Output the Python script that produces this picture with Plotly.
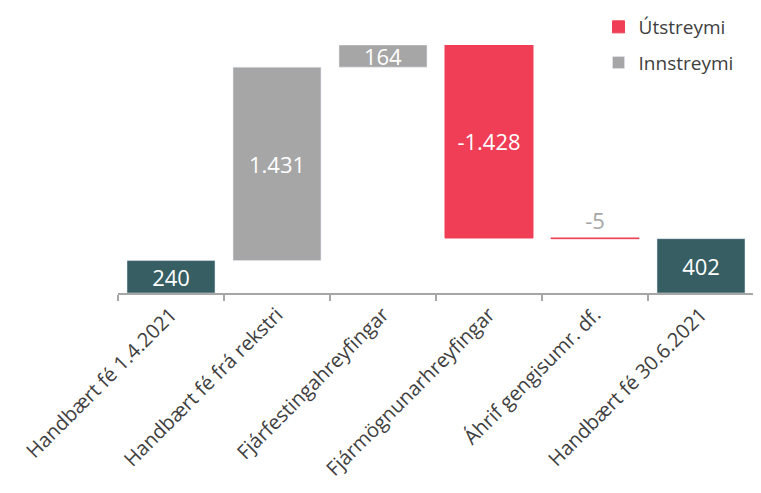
import plotly.graph_objects as go

categories = ["Handbært fé 1.4.2021", "Handbært fé frá rekstri", "Fjárfestingahreyfingar",
              "Fjármögnunarhreyfingar", "Áhrif gengisumr. df.", "Handbært fé 30.6.2021"]
values = [240, 1431, 164, -1428, -5, 402]
measures = ["total", "relative", "relative", "relative", "relative", "total"]

TEAL = "#365E63"
GREY = "#A6A6A6"
RED = "#EF3E55"
FONT = "Open Sans"

def fmt(v):
    s = f"{abs(v):,}".replace(",", ".")
    return ("-" if v < 0 else "") + s

# compute bar bases/heights
bases, heights = [], []
run = 0
for v, m in zip(values, measures):
    if m == "total":
        bases.append(0); heights.append(v); run = v
    else:
        lo = min(run, run + v)
        bases.append(lo); heights.append(abs(v)); run += v

def subset(cond):
    y = [h if cond(v, m) else None for v, m, h in zip(values, measures, heights)]
    b = [bb if cond(v, m) else None for v, m, bb in zip(values, measures, bases)]
    t = [fmt(v) if cond(v, m) else "" for v, m in zip(values, measures)]
    return y, b, t

fig = go.Figure()

y, b, t = subset(lambda v, m: m == "total")
fig.add_trace(go.Bar(x=categories, y=y, base=b, text=t, marker_color=TEAL, showlegend=False,
                     textposition="inside", insidetextanchor="middle", constraintext="none",
                     textfont=dict(color="white", size=22, family=FONT)))

y, b, t = subset(lambda v, m: m == "relative" and v > 0)
fig.add_trace(go.Bar(x=categories, y=y, base=b, text=t, marker_color=GREY, name="Innstreymi",
                     legendrank=2, legendgroup="in",
                     textposition="inside", insidetextanchor="middle", constraintext="none",
                     textfont=dict(color="white", size=22, family=FONT)))

y, b, t = subset(lambda v, m: m == "relative" and v < 0)
tp = ["outside" if (m == "relative" and v < 0 and abs(v) < 50) else "inside" for v, m in zip(values, measures)]
tc = [GREY if p == "outside" else "white" for p in tp]
fig.add_trace(go.Bar(x=categories, y=y, base=b, text=t, marker_color=RED, name="Útstreymi",
                     marker_line=dict(color=RED, width=1),
                     legendrank=1, legendgroup="out",
                     textposition=tp, insidetextanchor="middle", cliponaxis=False, constraintext="none",
                     textfont=dict(color=tc, size=22, family=FONT)))

fig.update_layout(
    width=761, height=493,
    barmode="overlay", bargap=0.17,
    plot_bgcolor="white", paper_bgcolor="white",
    margin=dict(l=110, r=15, t=37, b=208, autoexpand=False),
    font=dict(family=FONT, color="#404040"),
    legend=dict(xref="container", yref="container", x=0.776, y=1.013, xanchor="left", yanchor="top",
                font=dict(size=19, color="#404040"), tracegroupgap=8,
                itemwidth=30, bgcolor="rgba(0,0,0,0)"),
    showlegend=True,
)
fig.update_xaxes(type="category", tickangle=-45, showline=True, linecolor="#A6A6A6", linewidth=2,
                 ticks="outside", tickson="boundaries", ticklen=6, tickcolor="#A6A6A6", tickwidth=2,
                 automargin=False,
                 tickfont=dict(size=20, color="#404040", family=FONT), showgrid=False)
fig.update_yaxes(visible=False, range=[0, 1835], showgrid=False)

fig.write_html("out.html")
